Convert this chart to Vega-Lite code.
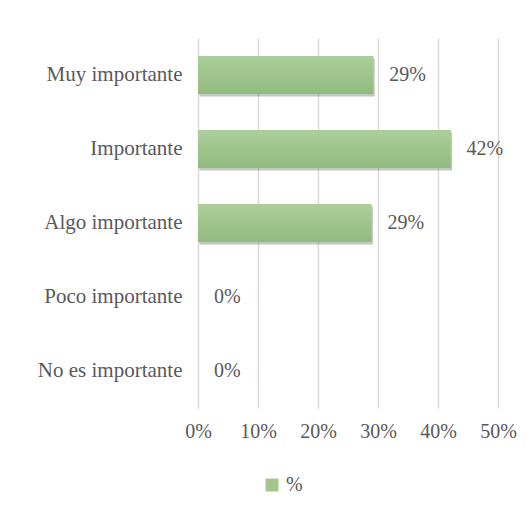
{
  "$schema": "https://vega.github.io/schema/vega-lite/v6.json",
  "width": 300,
  "height": 370,
  "padding": {"left": 37, "top": 38, "right": 5, "bottom": 5},
  "background": "white",
  "config": {"view": {"stroke": null}, "font": "Liberation Serif"},
  "data": {"values": [
    {"cat": "Muy importante", "value": 0.292, "serie": "%"},
    {"cat": "Importante", "value": 0.421, "serie": "%"},
    {"cat": "Algo importante", "value": 0.289, "serie": "%"},
    {"cat": "Poco importante", "value": 0, "serie": "%"},
    {"cat": "No es importante", "value": 0, "serie": "%"}
  ]},
  "encoding": {
    "y": {"field": "cat", "type": "nominal", "sort": null,
      "scale": {"paddingInner": 0.486, "paddingOuter": 0.243},
      "axis": {"title": null, "ticks": false, "domain": false, "grid": false, "labelPadding": 16, "labelFontSize": 21, "labelColor": "#595959", "labelFont": "Liberation Serif"}},
    "x": {"field": "value", "type": "quantitative", "scale": {"domain": [0, 0.5]},
      "axis": {"title": null, "values": [0, 0.1, 0.2, 0.3, 0.4, 0.5], "format": ".0%", "ticks": false, "domain": false, "grid": true, "gridColor": "#d9d9d9", "gridWidth": 1.5, "labelFlush": false, "labelPadding": 13, "labelFontSize": 20, "labelColor": "#595959", "labelFont": "Liberation Serif"}}
  },
  "layer": [
    {"mark": {"type": "bar", "fill": "#7f7f7f", "opacity": 0.45, "yOffset": 2.5, "xOffset": 1.5}},
    {"mark": {"type": "bar"},
      "encoding": {"color": {"field": "serie", "type": "nominal",
        "scale": {"range": ["#a3c690"]},
        "legend": {"orient": "none", "legendX": 64, "legendY": 437, "title": null, "symbolType": "square", "symbolSize": 169, "symbolStrokeWidth": 0, "symbolOpacity": 1, "labelFontSize": 20, "labelColor": "#595959", "labelFont": "Liberation Serif"}}}},
    {"mark": {"type": "bar", "fill": {"gradient": "linear", "x1": 0, "y1": 0, "x2": 0, "y2": 1, "stops": [{"offset": 0, "color": "#abcf99"}, {"offset": 1, "color": "#92ba7f"}]}}},
    {"mark": {"type": "text", "align": "left", "baseline": "middle", "dx": 16, "fontSize": 20, "color": "#595959", "font": "Liberation Serif"},
      "encoding": {"text": {"field": "value", "format": ".0%"}}}
  ]
}
